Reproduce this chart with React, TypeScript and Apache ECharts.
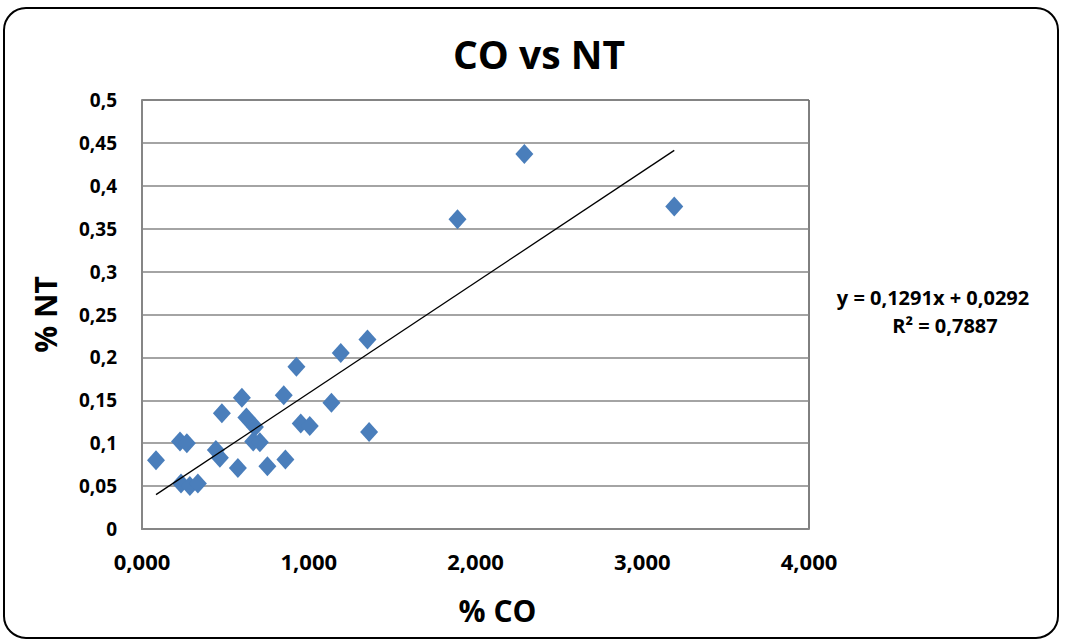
import React, { useEffect, useRef } from "react";
import * as echarts from "echarts";

const xCO = [0.084, 0.228, 0.269, 0.234, 0.287, 0.335, 0.479, 0.443, 0.467, 0.575, 0.599, 0.626, 0.677, 0.667, 0.707, 0.752, 0.850, 0.860, 0.926, 0.952, 1.006, 1.136, 1.192, 1.352, 1.362, 1.892, 2.293, 3.192];
const yNT = [0.080, 0.102, 0.100, 0.053, 0.050, 0.053, 0.135, 0.092, 0.083, 0.071, 0.153, 0.130, 0.119, 0.102, 0.101, 0.073, 0.156, 0.081, 0.189, 0.123, 0.120, 0.147, 0.205, 0.221, 0.113, 0.361, 0.437, 0.376];
const slope = 0.1291;
const intercept = 0.0292;
const eqText = "y = 0,1291x + 0,0292";
const r2Text = "R² = 0,7887";
const xTicks = [0, 1, 2, 3, 4];
const yTicks = [0, 0.05, 0.1, 0.15, 0.2, 0.25, 0.3, 0.35, 0.4, 0.45, 0.5];

const FONT = "'Open Sans', sans-serif";

export default function App() {
  const ref = useRef<HTMLDivElement>(null);
  useEffect(() => {
    if (!ref.current) return;
    const chart = echarts.init(ref.current, null, { renderer: "svg" });
    const points = xCO.map((x, i) => [x, yNT[i]]);
    const xMin = Math.min(...xCO);
    const xMax = Math.max(...xCO);
    const trend = [
      [xMin, slope * xMin + intercept],
      [xMax, slope * xMax + intercept],
    ];
    chart.setOption({
      animation: false,
      backgroundColor: "#fff",
      textStyle: { fontFamily: FONT },
      title: {
        text: "CO vs NT",
        left: 534,
        top: 29,
        textAlign: "center",
        textStyle: { fontSize: 39, fontWeight: "bold", color: "#000", fontFamily: FONT },
      },
      grid: {
        left: 142,
        right: 258,
        top: 100,
        bottom: 112,
        show: true,
        borderColor: "#000",
        borderWidth: 1,
      },
      xAxis: {
        type: "value",
        min: xTicks[0],
        max: xTicks[xTicks.length - 1],
        interval: 1,
        name: "% CO",
        nameLocation: "middle",
        nameGap: 66,
        nameTextStyle: {
          fontSize: 30,
          fontWeight: "bold",
          color: "#000",
          fontFamily: FONT,
          padding: [0, 0, 0, 44],
        },
        axisLine: { show: true, lineStyle: { color: "#868686", width: 2 } },
        axisTick: { show: false },
        splitLine: { show: false },
        axisLabel: {
          margin: 21,
          fontSize: 22,
          fontWeight: "bold",
          color: "#000",
          fontFamily: FONT,
          formatter: (v: number) => v.toFixed(3).replace(".", ","),
        },
      },
      yAxis: {
        type: "value",
        min: yTicks[0],
        max: yTicks[yTicks.length - 1],
        interval: 0.05,
        name: "% NT",
        nameLocation: "middle",
        nameGap: 82,
        nameTextStyle: { fontSize: 30, fontWeight: "bold", color: "#000", fontFamily: FONT },
        axisLine: { show: true, lineStyle: { color: "#868686", width: 2 } },
        axisTick: { show: false },
        splitLine: { show: true, lineStyle: { color: "#868686", width: 1.5 } },
        axisLabel: {
          margin: 25,
          fontSize: 19,
          fontWeight: "bold",
          color: "#000",
          fontFamily: FONT,
          formatter: (v: number) => String(Math.round(v * 100) / 100).replace(".", ","),
        },
      },
      series: [
        {
          type: "scatter",
          data: points,
          symbol: "diamond",
          symbolSize: [18, 20],
          itemStyle: { color: "#4A7EBB", opacity: 1 },
          z: 3,
        },
        {
          type: "line",
          data: trend,
          showSymbol: false,
          symbol: "none",
          lineStyle: { color: "#000", width: 1.3 },
          z: 4,
        },
      ],
      graphic: [
        {
          type: "rect",
          shape: { x: 4, y: 8, width: 1054, height: 630, r: 22 },
          style: { fill: "none", stroke: "#000", lineWidth: 2 },
          silent: true,
        },
        {
          type: "text",
          x: 933,
          y: 297,
          style: {
            text: eqText,
            align: "center",
            verticalAlign: "middle",
            fontSize: 20,
            fontWeight: "bold",
            fill: "#000",
            fontFamily: FONT,
          },
        },
        {
          type: "text",
          x: 945,
          y: 325,
          style: {
            text: r2Text,
            align: "center",
            verticalAlign: "middle",
            fontSize: 20,
            fontWeight: "bold",
            fill: "#000",
            fontFamily: FONT,
          },
        },
      ],
    });
    return () => chart.dispose();
  }, []);
  return (
    <div
      ref={ref}
      style={{ position: "absolute", left: 0, top: 0, width: 1067, height: 641 }}
    />
  );
}
